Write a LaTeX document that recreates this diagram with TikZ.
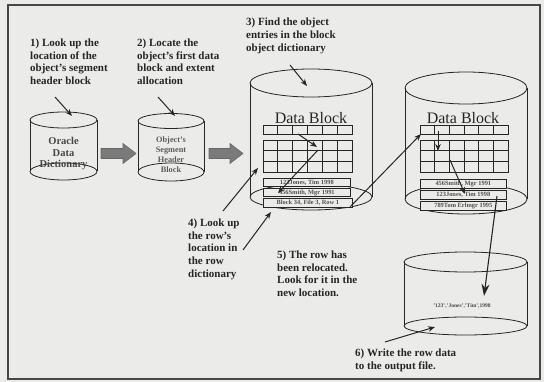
\documentclass[tikz,border=0pt]{standalone}
\usepackage{fontspec}
\setmainfont{Liberation Serif}
\usetikzlibrary{arrows.meta}
\definecolor{bg}{HTML}{EBEBE9}
\definecolor{ink}{HTML}{262626}
\definecolor{blk}{HTML}{7A7A7A}
\newcommand\cylshape[6]{%
  \draw[cylline] (#1,#3) -- (#1,#5) (#2,#3) -- (#2,#5);
  \pgfmathsetmacro\cxx{(#1+#2)/2}\pgfmathsetmacro\rxx{(#2-#1)/2}
  \draw[cylline] (\cxx,#3) ellipse [x radius=\rxx pt, y radius=#4pt];
  \draw[cylline] (\cxx,#5) ellipse [x radius=\rxx pt, y radius=#6pt];
}
\newcommand\dbgrid[2]{%
  \pgfmathsetmacro\cw{(#2-#1)/6}
  \draw[gridline] (#1,125) rectangle (#2,134);
  \draw[gridline] (#1,140) rectangle (#2,172);
  \foreach \k in {1,...,5}{\draw[gridline] (#1+\k*\cw,125) -- (#1+\k*\cw,134) (#1+\k*\cw,140) -- (#1+\k*\cw,172);}
  \draw[gridline] (#1,150.7) -- (#2,150.7) (#1,161.3) -- (#2,161.3);
}
\begin{document}
\begin{tikzpicture}[x=1pt,y=-1pt,
  cylline/.style={draw=ink, line width=0.8pt},
  gridline/.style={draw=ink, line width=0.9pt},
  frameline/.style={draw=ink!85, line width=1.3pt},
  lbl/.style={font=\fontsize{11}{12.7}\selectfont\bfseries, align=left, anchor=north west, inner sep=0pt, text=ink},
  cyltext/.style={font=\fontsize{10.5}{11.5}\selectfont\bfseries, align=center, inner sep=0pt, text=ink!85},
  smalltext/.style={font=\fontsize{8.3}{10}\selectfont\bfseries, align=center, inner sep=0pt, text=ink!75},
  titletext/.style={font=\fontsize{16}{16}\selectfont, inner sep=0pt, text=ink, anchor=base},
  rowbox/.style={draw=ink, fill=bg, line width=0.7pt, inner sep=0pt, minimum height=8.5pt, anchor=north west, font=\fontsize{6.4}{6.4}\selectfont\bfseries, text=ink!80},
  arr/.style={draw=ink, line width=1pt, -{Stealth[length=7pt,width=5.5pt]}},
  bigarr/.style={draw=ink, line width=1.1pt, -{Stealth[length=12pt,width=8pt]}},
  blockarrow/.style={fill=blk, draw=ink!70, line width=0.6pt}]
\useasboundingbox (0,0) rectangle (544,382);
\fill[bg] (0,0) rectangle (544,382);
\draw[frameline] (8,5) rectangle (540,379);

% labels
\node[lbl] (t1) at (30,38.5) {1) Look up the\\location of the\\object's segment\\header block};
\node[lbl] (t2) at (137,38.5) {2) Locate the\\object's first data\\block and extent\\allocation};
\node[lbl] (t3) at (246,18) {3) Find the object\\entries in the block\\object dictionary};
\node[lbl] (t4) at (188,218.5) {4) Look up\\the row's\\location in\\the row\\dictionary};
\node[lbl] (t5) at (277,250.5) {5) The row has\\been relocated.\\Look for it in the\\new location.};
\node[lbl] (t6) at (355,348.5) {6) Write the row data\\to the output file.};

% cylinders
\cylshape{30}{97}{120}{8}{171.5}{8.5}
\cylshape{138}{204}{121}{7.5}{172}{9}
\cylshape{250}{372}{83}{14}{197}{13}
\cylshape{405}{527}{88}{16}{199}{15}
\cylshape{404}{527}{262}{10}{326}{9}

\node[cyltext] (c1) at (63.5,153.5) {Oracle\\Data\\Dictionary};
\node[smalltext] (c2) at (171,154.5) {Object's\\Segment\\Header\\Block};

% block arrows
\draw[blockarrow] (101,148.5) -- (123,148.5) -- (123,143.5) -- (136,153.5) -- (123,163.5) -- (123,158.5) -- (101,158.5) -- cycle;
\draw[blockarrow] (209,148.5) -- (230,148.5) -- (230,143.5) -- (243,153.5) -- (230,163.5) -- (230,158.5) -- (209,158.5) -- cycle;

% data blocks
\node[titletext] (d3) at (311,123.5) {Data Block};
\node[titletext] (d4) at (463,123.5) {Data Block};
\dbgrid{263}{352}
\dbgrid{420}{508}

\node[rowbox, minimum width=87pt] (c3r1) at (263,178) {123Jones, Tim 1998};
\node[rowbox, minimum width=87pt] (c3r2) at (263,188) {456Smith, Mgr 1991};
\node[rowbox, minimum width=89pt] (c3r3) at (263,198.5) {Block 34, File 3, Row 1};
\node[rowbox, minimum width=86pt] (c4r1) at (420,179.5) {456Smith, Mgr 1991};
\node[rowbox, minimum width=86pt] (c4r2) at (420,190.5) {123Jones, Tim 1998};
\node[rowbox, minimum width=86pt] (c4r3) at (420,201.5) {789Tom Erlmgr 1995};

\node[font=\fontsize{5.5}{6}\selectfont\bfseries, text=ink!85, inner sep=0pt] (out) at (462,306) {'123','Jones','Tim',1998};

% connector points
\coordinate (a1s) at (55,97);   \coordinate (a1e) at (72,116);
\coordinate (a2s) at (158,97);  \coordinate (a2e) at (175,116);
\coordinate (a3s) at (290,65);  \coordinate (a3e) at (307,86);
\coordinate (g3s) at (298,134); \coordinate (g3e) at (317,147);
\coordinate (g3a) at (318,150); \coordinate (g3b) at (278,193);
\coordinate (a4s) at (223,211); \coordinate (a4e) at (258,168);
\coordinate (a4t) at (243,250); \coordinate (a4u) at (271,212);
\coordinate (m1) at (350,207);  \coordinate (m2) at (421,134);
\coordinate (g4s) at (438,131); \coordinate (g4e) at (438,151);
\coordinate (g4a) at (450,160); \coordinate (g4b) at (465,194);
\coordinate (o1) at (497,196);  \coordinate (o2) at (484,296);
\coordinate (a6s) at (385,342); \coordinate (a6e) at (435,327);

\draw[arr] (a1s) -- (a1e);
\draw[arr] (a2s) -- (a2e);
\draw[arr] (a3s) -- (a3e);
\draw[arr] (g3s) -- (g3e);
\draw[arr] (g3a) -- (g3b);
\draw[arr] (a4s) -- (a4e);
\draw[arr] (a4t) -- (a4u);
\draw[arr] (m1) -- (m2);
\draw[arr] (g4s) -- (g4e);
\draw[arr] (g4a) -- (g4b);
\draw[bigarr] (o1) -- (o2);
\draw[arr] (a6s) -- (a6e);
\end{tikzpicture}
\end{document}
